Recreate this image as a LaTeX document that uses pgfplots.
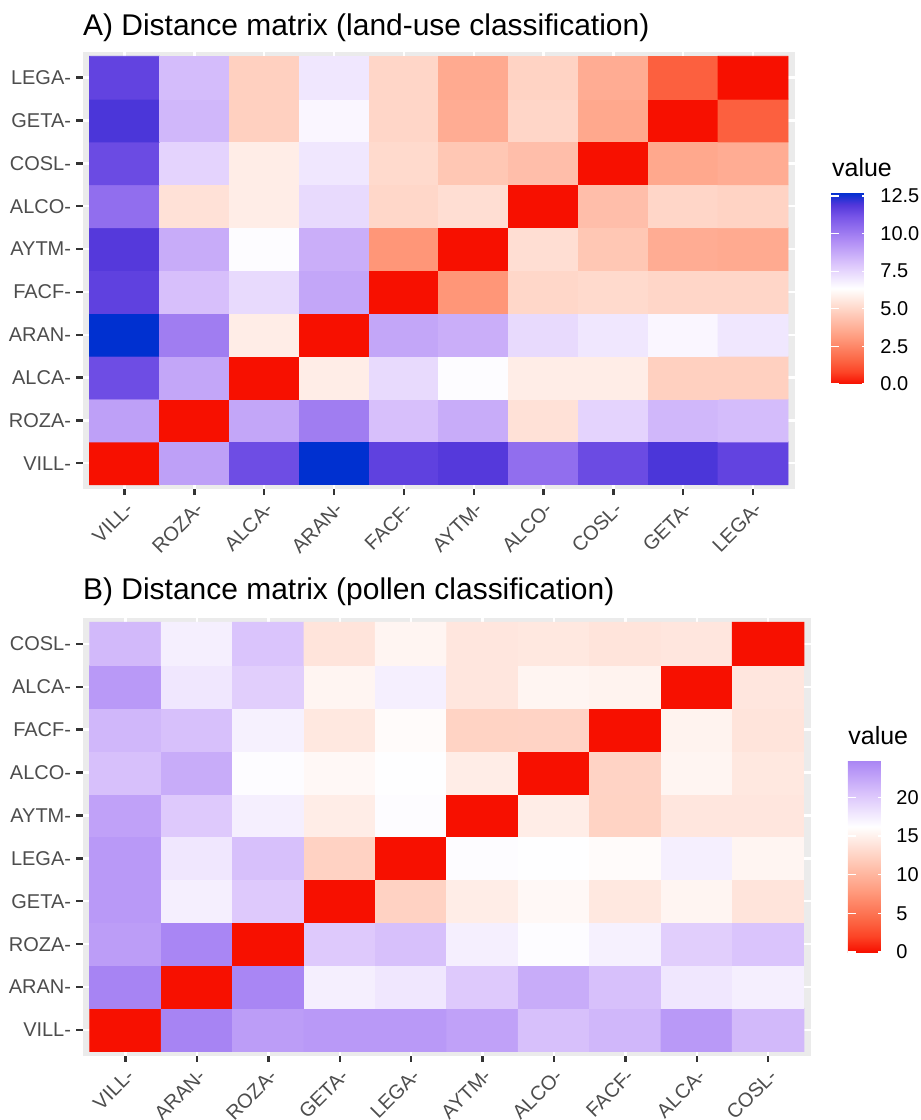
\documentclass[border=0pt]{standalone}
\usepackage{fontspec}
\setmainfont{Liberation Sans}
\usepackage{pgfplots}
\pgfplotsset{compat=1.18}
\definecolor{bggrey}{RGB}{235,235,235}
\definecolor{ticktext}{RGB}{77,77,77}
\definecolor{tickcol}{RGB}{51,51,51}
\pgfplotsset{
  /pgf/number format/assume math mode=true,
  colormap={cmA}{rgb255(0cm)=(247,16,0); rgb255(0.795cm)=(252,68,38); rgb255(1.59cm)=(252,102,68); rgb255(3.18cm)=(255,158,129); rgb255(4.77cm)=(255,207,191); rgb255(6.36cm)=(255,255,255); rgb255(7.95cm)=(220,198,252); rgb255(9.54cm)=(175,140,245); rgb255(11.13cm)=(120,85,232); rgb255(11.925cm)=(82,55,218); rgb255(12.72cm)=(0,48,208)},
  colormap={cmB}{rgb255(0cm)=(247,16,0); rgb255(2.025cm)=(252,68,38); rgb255(4.05cm)=(252,102,68); rgb255(8.1cm)=(255,158,129); rgb255(12.15cm)=(255,207,191); rgb255(16.2cm)=(255,255,255); rgb255(20.25cm)=(220,198,252); rgb255(24.3cm)=(175,140,245); rgb255(24.83cm)=(167,132,243)},
  hm/.style={
    scale only axis,
    xmin=0.4, xmax=10.6, ymin=0.4, ymax=10.6,
    axis background/.style={fill=bggrey},
    axis line style={draw=none},
    xtick={1,...,10}, ytick={1,...,10},
    tick pos=left, tick align=outside, major tick length=2.75pt,
    tick style={tickcol, line width=1.07pt},
    grid=major, major grid style={white, line width=1.07pt},
    ticklabel style={font=\fontsize{8.8}{10}\selectfont, text=ticktext},
    xticklabel style={yshift=-2.2pt, rotate=45, anchor=north east, inner sep=0pt},
    yticklabel style={xshift=-2.2pt, anchor=east, inner sep=0pt},
    colorbar,
    colorbar shift/.style={},
  },
  cb/.style={
    at={(parent axis.south east)}, anchor=south west,
    axis line style={draw=none},
    tick align=inside, ytick pos=both, yticklabel pos=right,
    major tick length=3.4pt,
    tick style={white, line width=0.6pt},
    yticklabel style={font=\fontsize{8.8}{10}\selectfont, text=black, inner sep=0pt, xshift=4.4pt},
  },
}
\begin{document}
\begin{tikzpicture}
\path[use as bounding box] (0,0) rectangle (405.7pt,493.36pt);
% Panel A
\begin{axis}[hm,
  at={(36.43pt,277.96pt)}, anchor=south west,
  width=313.77pt, height=192.5pt,
  xticklabels={VILL-,ROZA-,ALCA-,ARAN-,FACF-,AYTM-,ALCO-,COSL-,GETA-,LEGA-},
  yticklabels={VILL-,ROZA-,ALCA-,ARAN-,FACF-,AYTM-,ALCO-,COSL-,GETA-,LEGA-},
  colormap name=cmA, point meta min=0, point meta max=12.72,
  colorbar style={cb, xshift=15.86pt, yshift=46.25pt, width=17.18pt, height=84.27pt,
    ytick={0,2.5,5,7.5,10,12.5},
    yticklabel style={/pgf/number format/.cd, fixed, fixed zerofill, precision=1}},
]
\addplot[matrix plot*, mesh/cols=10, point meta=explicit] table[x=x, y=y, meta=c, row sep=\\] {
x y c\\
1 1 0\\ 2 1 9.0\\ 3 1 11.33\\ 4 1 12.72\\ 5 1 11.66\\ 6 1 11.86\\ 7 1 10.41\\ 8 1 11.40\\ 9 1 11.99\\ 10 1 11.60\\
1 2 9.0\\ 2 2 0\\ 3 2 8.83\\ 4 2 9.97\\ 5 2 8.13\\ 6 2 8.66\\ 7 2 5.37\\ 8 2 7.59\\ 9 2 8.37\\ 10 2 8.23\\
1 3 11.33\\ 2 3 8.83\\ 3 3 0\\ 4 3 5.76\\ 5 3 7.40\\ 6 3 6.45\\ 7 3 5.76\\ 8 3 5.76\\ 9 3 4.80\\ 10 3 4.80\\
1 4 12.72\\ 2 4 9.97\\ 3 4 5.76\\ 4 4 0\\ 5 4 8.83\\ 6 4 8.60\\ 7 4 7.40\\ 8 4 7.04\\ 9 4 6.60\\ 10 4 7.04\\
1 5 11.66\\ 2 5 8.13\\ 3 5 7.40\\ 4 5 8.83\\ 5 5 0\\ 6 5 2.95\\ 7 5 5.02\\ 8 5 5.12\\ 9 5 5.00\\ 10 5 5.00\\
1 6 11.86\\ 2 6 8.66\\ 3 6 6.45\\ 4 6 8.60\\ 5 6 2.95\\ 6 6 0\\ 7 6 5.27\\ 8 6 4.50\\ 9 6 3.65\\ 10 6 3.57\\
1 7 10.41\\ 2 7 5.37\\ 3 7 5.76\\ 4 7 7.40\\ 5 7 5.02\\ 6 7 5.27\\ 7 7 0\\ 8 7 4.22\\ 9 7 5.00\\ 10 7 4.90\\
1 8 11.40\\ 2 8 7.59\\ 3 8 5.76\\ 4 8 7.04\\ 5 8 5.12\\ 6 8 4.50\\ 7 8 4.22\\ 8 8 0\\ 9 8 3.50\\ 10 8 3.63\\
1 9 11.99\\ 2 9 8.37\\ 3 9 4.80\\ 4 9 6.60\\ 5 9 5.00\\ 6 9 3.65\\ 7 9 5.00\\ 8 9 3.50\\ 9 9 0\\ 10 9 1.46\\
1 10 11.60\\ 2 10 8.23\\ 3 10 4.80\\ 4 10 7.04\\ 5 10 5.00\\ 6 10 3.57\\ 7 10 4.90\\ 8 10 3.63\\ 9 10 1.46\\ 10 10 0\\
};
\end{axis}
% Panel B
\begin{axis}[hm,
  at={(36.43pt,28.32pt)}, anchor=south west,
  width=320.8pt, height=192.76pt,
  xticklabels={VILL-,ARAN-,ROZA-,GETA-,LEGA-,AYTM-,ALCO-,FACF-,ALCA-,COSL-},
  yticklabels={VILL-,ARAN-,ROZA-,GETA-,LEGA-,AYTM-,ALCO-,FACF-,ALCA-,COSL-},
  colormap name=cmB, point meta min=0, point meta max=24.83,
  colorbar style={cb, xshift=16.3pt, yshift=45.68pt, width=16.74pt, height=84.58pt,
    ytick={0,5,10,15,20}},
]
\addplot[matrix plot*, mesh/cols=10, point meta=explicit] table[x=x, y=y, meta=c, row sep=\\] {
x y c\\
1 1 0\\ 2 1 24.8\\ 3 1 23.1\\ 4 1 23.4\\ 5 1 23.4\\ 6 1 22.8\\ 7 1 20.7\\ 8 1 21.3\\ 9 1 23.4\\ 10 1 21.15\\
1 2 24.8\\ 2 2 0\\ 3 2 24.67\\ 4 2 17.35\\ 5 2 17.93\\ 6 2 20.0\\ 7 2 22.05\\ 8 2 20.7\\ 9 2 17.93\\ 10 2 17.35\\
1 3 23.1\\ 2 3 24.67\\ 3 3 0\\ 4 3 20.0\\ 5 3 20.7\\ 6 3 17.35\\ 7 3 16.43\\ 8 3 17.2\\ 9 3 19.7\\ 10 3 20.4\\
1 4 23.4\\ 2 4 17.35\\ 3 4 20.0\\ 4 4 0\\ 5 4 12.4\\ 6 4 14.7\\ 7 4 15.6\\ 8 4 14.25\\ 9 4 15.36\\ 10 4 13.9\\
1 5 23.4\\ 2 5 17.93\\ 3 5 20.7\\ 4 5 12.4\\ 5 5 0\\ 6 5 16.4\\ 7 5 16.3\\ 8 5 15.9\\ 9 5 17.35\\ 10 5 15.36\\
1 6 22.8\\ 2 6 20.0\\ 3 6 17.35\\ 4 6 14.7\\ 5 6 16.4\\ 6 6 0\\ 7 6 14.7\\ 8 6 12.45\\ 9 6 14.1\\ 10 6 14.1\\
1 7 20.7\\ 2 7 22.05\\ 3 7 16.43\\ 4 7 15.6\\ 5 7 16.3\\ 6 7 14.7\\ 7 7 0\\ 8 7 12.5\\ 9 7 15.36\\ 10 7 14.25\\
1 8 21.3\\ 2 8 20.7\\ 3 8 17.2\\ 4 8 14.25\\ 5 8 15.9\\ 6 8 12.45\\ 7 8 12.5\\ 8 8 0\\ 9 8 15.2\\ 10 8 13.9\\
1 9 23.4\\ 2 9 17.93\\ 3 9 19.7\\ 4 9 15.36\\ 5 9 17.35\\ 6 9 14.1\\ 7 9 15.36\\ 8 9 15.2\\ 9 9 0\\ 10 9 14.1\\
1 10 21.15\\ 2 10 17.35\\ 3 10 20.4\\ 4 10 13.9\\ 5 10 15.36\\ 6 10 14.1\\ 7 10 14.25\\ 8 10 13.9\\ 9 10 14.1\\ 10 10 0\\
};
\end{axis}
% titles
\node[anchor=base west, inner sep=0pt, font=\fontsize{13.2}{15}\selectfont] at (36.43pt,477.81pt) {A) Distance matrix (land-use classification)};
\node[anchor=base west, inner sep=0pt, font=\fontsize{13.2}{15}\selectfont] at (36.43pt,229.06pt) {B) Distance matrix (pollen classification)};
\node[anchor=base west, inner sep=0pt, font=\fontsize{11}{13}\selectfont] at (366.36pt,415.52pt) {value};
\node[anchor=base west, inner sep=0pt, font=\fontsize{11}{13}\selectfont] at (373.54pt,165.19pt) {value};
\end{tikzpicture}
\end{document}
